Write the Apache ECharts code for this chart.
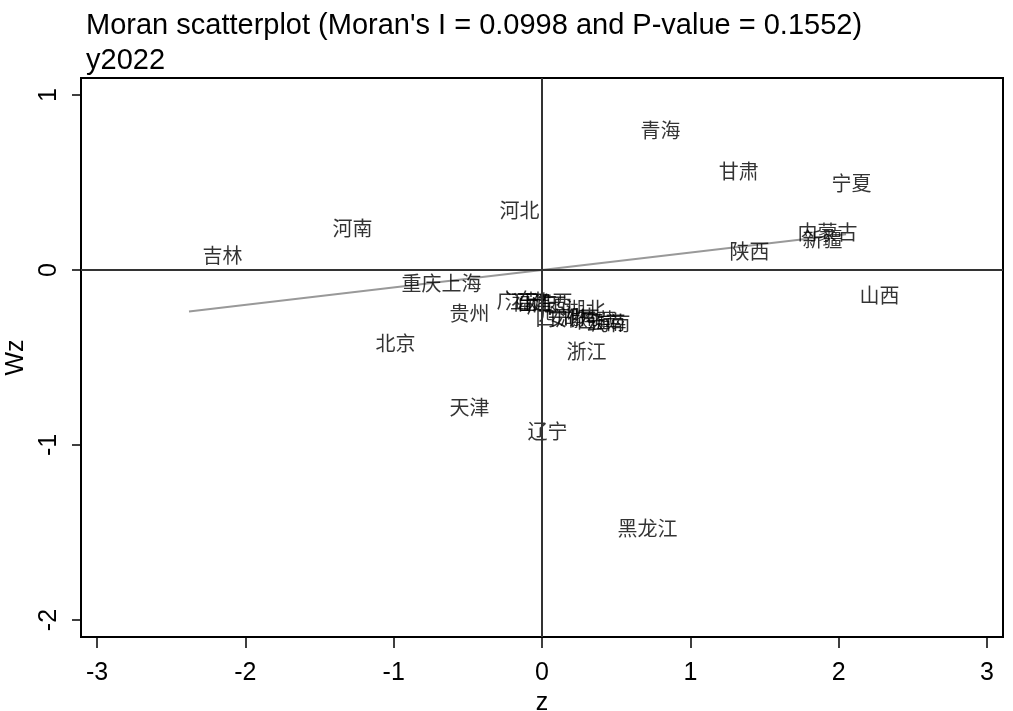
<!DOCTYPE html>
<html><head><meta charset="utf-8">
<script src="https://cdn.jsdelivr.net/npm/echarts@6/dist/echarts.min.js"></script>
<style>html,body{margin:0;padding:0;background:#fff}#c{width:1013px;height:711px}</style>
</head><body><div id="c"></div>
<script>
const provinces = ['青海','甘肃','宁夏','河北','河南','吉林','内蒙古','新疆','陕西','山西','重庆','上海','贵州','北京','天津','辽宁','浙江','黑龙江','广东','江苏','福建','山东','广西','江西','湖北','四川','安徽','湖南','西藏','云南','海南'];
const zValues = [0.573,1.10,1.861,-0.378,-1.504,-2.38,1.632,1.666,1.173,2.05,-1.038,-0.769,-0.715,-1.214,-0.715,-0.189,0.074,0.418,-0.398,-0.344,-0.297,-0.256,-0.196,-0.155,0.067,-0.135,-0.054,0.027,0.142,0.202,0.236];
const wzValues = [0.80,0.566,0.497,0.343,0.24,0.086,0.217,0.177,0.109,-0.143,-0.074,-0.074,-0.246,-0.417,-0.783,-0.92,-0.463,-1.474,-0.171,-0.177,-0.183,-0.189,-0.2,-0.183,-0.223,-0.274,-0.274,-0.269,-0.286,-0.297,-0.303];
const moranI = 0.0998;
const pValue = 0.1552;
const yearLabel = 'y2022';
const xTicks = [-3,-2,-1,0,1,2,3];
const yTicks = [-2,-1,0,1];

const pts = provinces.map((p,i)=>({name:p, value:[zValues[i], wzValues[i]]}));
const zMin = Math.min(...zValues), zMax = Math.max(...zValues);
const fitLine = [[zMin, moranI*zMin],[zMax, moranI*zMax]];

const chart = echarts.init(document.getElementById('c'));
const latin = 'Liberation Sans, Arial, sans-serif';
chart.setOption({
  animation:false,
  backgroundColor:'#fff',
  title:[
    {text:'Moran scatterplot (Moran\'s I = '+moranI.toFixed(4)+' and P-value = '+pValue.toFixed(4)+')', left:81, top:6,
     textStyle:{fontFamily:latin, fontSize:29, fontWeight:'normal', color:'#000'}},
    {text:yearLabel, left:81, top:41, textStyle:{fontFamily:latin, fontSize:29, fontWeight:'normal', color:'#000'}}
  ],
  grid:{left:81, right:10, top:78, bottom:74, show:true, borderColor:'#000', borderWidth:2, outerBoundsMode:'none', containLabel:false},
  xAxis:{type:'value', min:-3.108, max:3.108, name:'z', nameLocation:'middle', nameGap:51,
    nameTextStyle:{fontFamily:latin, fontSize:25, color:'#000'},
    axisLine:{show:true, onZero:false, lineStyle:{color:'#000', width:2}}, splitLine:{show:false},
    axisTick:{show:true, customValues:xTicks, length:11, lineStyle:{color:'#000', width:1.5}},
    axisLabel:{customValues:xTicks, fontFamily:latin, fontSize:25, color:'#000', margin:24}},
  yAxis:{type:'value', min:-2.097, max:1.097, name:'Wz', nameLocation:'middle', nameGap:44, nameRotate:90,
    nameTextStyle:{fontFamily:latin, fontSize:25, color:'#000'},
    axisLine:{show:true, onZero:false, lineStyle:{color:'#000', width:2}}, splitLine:{show:false},
    axisTick:{show:true, customValues:yTicks, length:9, lineStyle:{color:'#000', width:1.5}},
    axisLabel:{customValues:yTicks, rotate:90, fontFamily:latin, fontSize:25, color:'#000', margin:19}},
  series:[
    {type:'line', data:fitLine, symbol:'none', silent:true, lineStyle:{color:'#999', width:2}, z:3,
     markLine:{silent:true, symbol:'none', label:{show:false}, lineStyle:{color:'#333', width:2, type:'solid'},
       data:[{xAxis:0},{yAxis:0}]}},
    {type:'scatter', data:pts, symbolSize:1, itemStyle:{color:'rgba(0,0,0,0)'}, z:4,
     label:{show:true, position:'right', distance:13, formatter:'{b}', color:'#000',
       fontFamily:'Noto Sans CJK SC', fontSize:20}},
  ]
});
</script></body></html>
